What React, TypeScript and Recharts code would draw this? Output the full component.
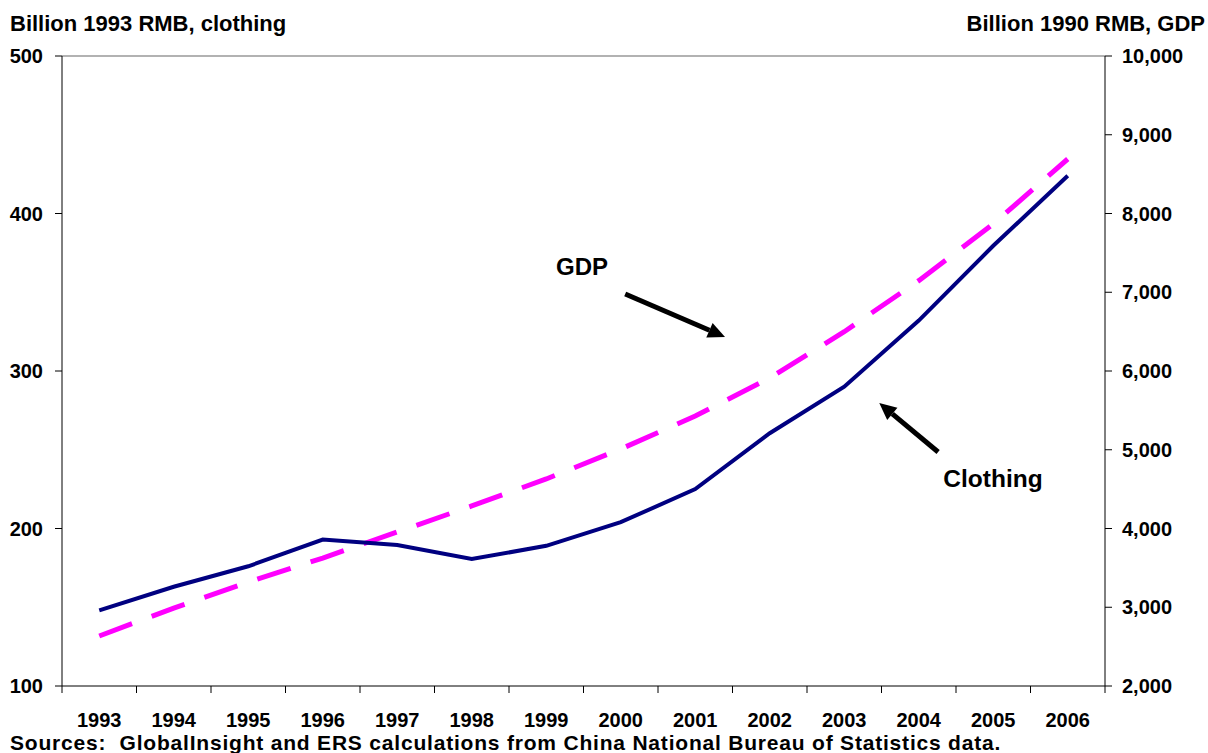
import { ComposedChart, Line, ReferenceLine, XAxis, YAxis } from "recharts";

const years = [1993, 1994, 1995, 1996, 1997, 1998, 1999, 2000, 2001, 2002, 2003, 2004, 2005, 2006];
const clothing = [148, 163, 176, 193, 189.5, 180.6, 189, 204, 225, 260.5, 290, 332, 379.5, 424];
const gdp = [2635, 2990, 3320, 3625, 3956, 4286, 4629, 5010, 5429, 5911, 6499, 7147, 7867, 8692];

const leftTicks = [100, 200, 300, 400, 500];
const rightTicks = [2000, 3000, 4000, 5000, 6000, 7000, 8000, 9000, 10000];
// category boundaries, where the x-axis tick marks sit
const yearBounds = [...years.map((y) => y - 0.5), 2006.5];

// annotation arrows, in data units (year, clothing axis)
const gdpArrow = [
  { x: 2000.06, y: 348.9 },
  { x: 2001.4, y: 321.6 },
];
const clothingArrow = [
  { x: 2004.26, y: 248.6 },
  { x: 2003.47, y: 279.7 },
];

const data = years.map((year, i) => ({ year, clothing: clothing[i], gdp: gdp[i] }));

const FONT = '"Liberation Sans", Arial, sans-serif';
const tickStyle = { fill: "#000", fontSize: 20, fontWeight: 700 };

const W = 1208;
const H = 753;
const margin = { top: 56, right: 13, bottom: 17, left: 12 };
const leftW = 50;
const rightW = 90;
const halfStep = (W - margin.left - margin.right - leftW - rightW) / years.length / 2;

function Arrow(props: any) {
  const { x1, y1, x2, y2 } = props;
  const ang = Math.atan2(y2 - y1, x2 - x1);
  const len = 17;
  const half = 8;
  const bx = x2 - len * Math.cos(ang);
  const by = y2 - len * Math.sin(ang);
  const px = -Math.sin(ang) * half;
  const py = Math.cos(ang) * half;
  return (
    <g>
      <line x1={x1} y1={y1} x2={bx} y2={by} stroke="#000" strokeWidth={5} />
      <polygon points={`${x2},${y2} ${bx + px},${by + py} ${bx - px},${by - py}`} fill="#000" />
    </g>
  );
}

// year label sits in the middle of the category, right of its boundary tick
function YearTick(props: any) {
  const { x, y, payload } = props;
  const v = Number(payload.value);
  if (v > 2006) return <g />;
  return (
    <text x={x + halfStep} y={y} dy="0.71em" textAnchor="middle" {...tickStyle}>
      {Math.round(v + 0.5)}
    </text>
  );
}

export default function App() {
  return (
    <div style={{ position: "absolute", left: 0, top: 0, width: W, height: H, fontFamily: FONT, background: "#fff" }}>
      <ComposedChart width={W} height={H} data={data} margin={margin}>
        <XAxis
          xAxisId="year"
          dataKey="year"
          type="number"
          domain={[1992.5, 2006.5]}
          ticks={yearBounds}
          tick={YearTick}
          tickSize={7}
          tickMargin={20}
          stroke="#000"
          height={50}
          interval={0}
          allowDataOverflow
        />
        <YAxis
          yAxisId="left"
          domain={[100, 500]}
          ticks={leftTicks}
          tick={tickStyle}
          tickSize={7}
          tickMargin={12}
          width={leftW}
          stroke="#000"
          allowDataOverflow
        />
        <YAxis
          yAxisId="right"
          orientation="right"
          domain={[2000, 10000]}
          ticks={rightTicks}
          tick={tickStyle}
          tickSize={7}
          tickMargin={10}
          width={rightW}
          stroke="#000"
          tickFormatter={(v) => Number(v).toLocaleString("en-US")}
          allowDataOverflow
        />
        <ReferenceLine xAxisId="year" yAxisId="left" y={500} stroke="#999" strokeWidth={1.5} />
        <Line
          xAxisId="year"
          yAxisId="right"
          dataKey="gdp"
          type="linear"
          stroke="#FF00FF"
          strokeWidth={5}
          strokeDasharray="35 21"
          dot={false}
          isAnimationActive={false}
        />
        <Line
          xAxisId="year"
          yAxisId="left"
          dataKey="clothing"
          type="linear"
          stroke="#000080"
          strokeWidth={4}
          dot={false}
          isAnimationActive={false}
        />
        <ReferenceLine xAxisId="year" yAxisId="left" segment={gdpArrow} shape={Arrow} ifOverflow="visible" />
        <ReferenceLine xAxisId="year" yAxisId="left" segment={clothingArrow} shape={Arrow} ifOverflow="visible" />
      </ComposedChart>
      <svg
        width={W}
        height={H}
        style={{ position: "absolute", left: 0, top: 0, pointerEvents: "none", fontFamily: FONT, fontWeight: 700 }}
      >
        <text x={10} y={31} fontSize={22}>Billion 1993 RMB, clothing</text>
        <text x={1205} y={31} fontSize={22} textAnchor="end">Billion 1990 RMB, GDP</text>
        <text x={582} y={275} fontSize={24} textAnchor="middle">GDP</text>
        <text x={993} y={487} fontSize={24.5} textAnchor="middle">Clothing</text>
        <text x={10} y={750} fontSize={21} letterSpacing={0.8}>
          {"Sources:\u00a0 GlobalInsight and ERS calculations from China National Bureau of Statistics data."}
        </text>
      </svg>
    </div>
  );
}
